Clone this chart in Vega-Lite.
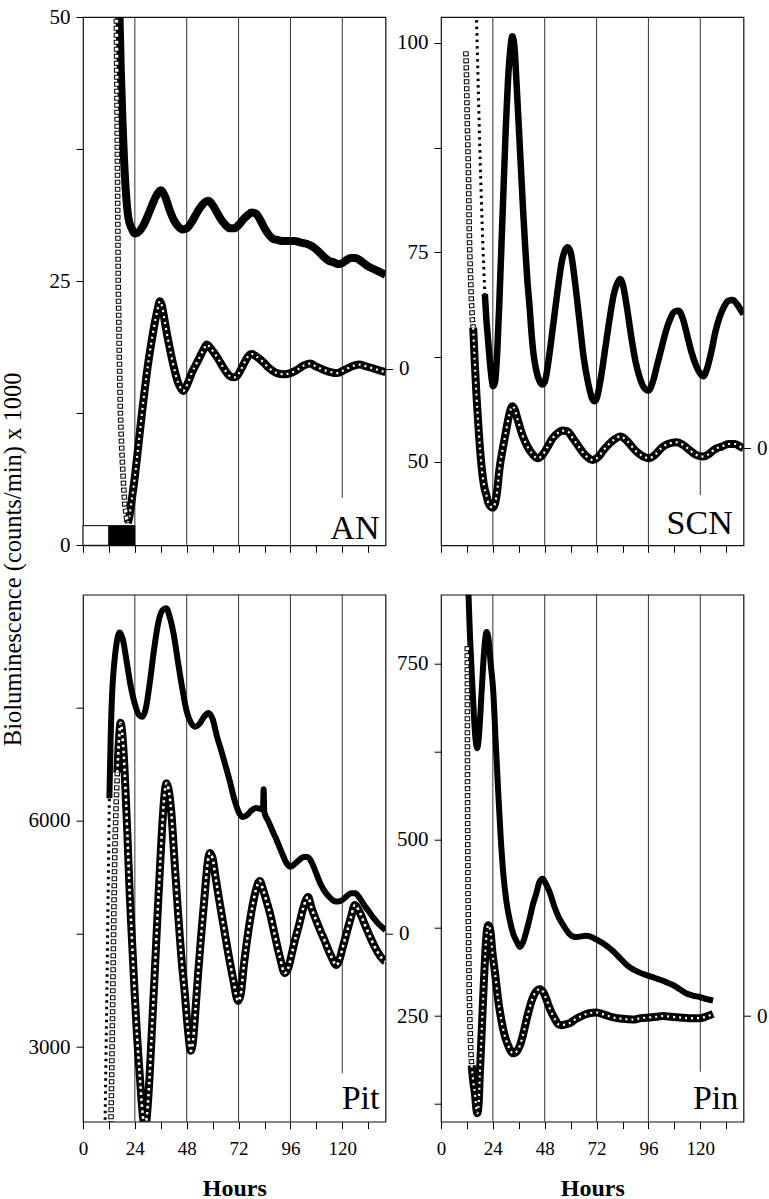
{
"$schema": "https://vega.github.io/schema/vega-lite/v6.json",
"background": "white",
"padding": {"left": 0, "top": 5, "right": 0, "bottom": 0},
"title": {"text": "Bioluminescence (counts/min) x 1000", "orient": "left", "anchor": "middle", "font": "Liberation Serif", "fontSize": 24.5, "fontWeight": "normal", "color": "black", "offset": 1, "dx": 44},
"config": {
 "view": {"stroke": "#111", "strokeWidth": 1.2},
 "axis": {"labelFont": "Liberation Serif", "labelFontSize": 21, "labelColor": "black", "tickColor": "black", "tickSize": 7, "tickWidth": 1, "domain": false, "grid": false, "labelPadding": 6, "titleFont": "Liberation Serif", "titleColor": "black", "labelOverlap": false}
},
"datasets": {
 "an_grid": [{"h":24,"v":50,"v2":0},{"h":48,"v":50,"v2":0},{"h":72,"v":50,"v2":0},{"h":96,"v":50,"v2":0},{"h":120,"v":50,"v2":4.5}],
 "an_box": [{"h":0,"h2":12,"v":0,"v2":1.86,"phase":"light"},{"h":12,"h2":24,"v":0,"v2":1.86,"phase":"dark"}],
 "an_label": [{"label":"AN","h":137.2,"v":0.6}],
 "an_zero": [{"v":16.7}],
 "an_raw": [{"h":16.8,"v":51},{"h":17.5,"v":45},{"h":18.3,"v":40},{"h":19,"v":36.5},{"h":20,"v":33},{"h":21,"v":31},{"h":22.5,"v":30},{"h":24,"v":29.5},{"h":26,"v":29.7},{"h":28,"v":30.3},{"h":30,"v":31.2},{"h":32,"v":32.2},{"h":34,"v":33.1},{"h":36,"v":33.6},{"h":38,"v":33.0},{"h":40,"v":31.8},{"h":42,"v":30.8},{"h":44,"v":30.2},{"h":46,"v":29.9},{"h":48,"v":30.0},{"h":50,"v":30.5},{"h":52,"v":31.2},{"h":54,"v":31.9},{"h":56,"v":32.4},{"h":58,"v":32.6},{"h":60,"v":32.2},{"h":62,"v":31.5},{"h":64,"v":30.8},{"h":66,"v":30.3},{"h":68,"v":30.0},{"h":70,"v":30.0},{"h":72,"v":30.3},{"h":74,"v":30.8},{"h":76,"v":31.2},{"h":78,"v":31.5},{"h":80,"v":31.4},{"h":82,"v":30.8},{"h":84,"v":30.0},{"h":86,"v":29.4},{"h":88,"v":29.0},{"h":90,"v":28.9},{"h":92,"v":28.8},{"h":94,"v":28.8},{"h":96,"v":28.8},{"h":98,"v":28.8},{"h":100,"v":28.7},{"h":102,"v":28.6},{"h":104,"v":28.5},{"h":106,"v":28.3},{"h":108,"v":28.0},{"h":110,"v":27.6},{"h":112,"v":27.2},{"h":114,"v":26.9},{"h":116,"v":26.8},{"h":118,"v":26.6},{"h":120,"v":26.7},{"h":122,"v":27.0},{"h":124,"v":27.2},{"h":126,"v":27.2},{"h":128,"v":27.0},{"h":130,"v":26.7},{"h":132,"v":26.4},{"h":134,"v":26.2},{"h":136,"v":26.0},{"h":138,"v":25.8},{"h":140,"v":25.6}],
 "an_steep": [{"h":15.4,"v":50.5},{"h":15.8,"v":40},{"h":16.3,"v":25},{"h":16.8,"v":18},{"h":17.3,"v":12.6},{"h":17.8,"v":9.8},{"h":18.3,"v":7.5},{"h":18.9,"v":5.3},{"h":19.4,"v":3.8},{"h":20.1,"v":2.6},{"h":20.8,"v":2.1}],
 "an_det": [{"h":20.8,"v":2.1},{"h":21.5,"v":2.8},{"h":22.5,"v":4.2},{"h":24,"v":6.5},{"h":25.5,"v":9.2},{"h":27,"v":12},{"h":28.5,"v":14.6},{"h":30,"v":17},{"h":31.5,"v":19},{"h":33,"v":20.8},{"h":34.5,"v":22.3},{"h":35.6,"v":23.1},{"h":36.5,"v":22.7},{"h":37.5,"v":21.6},{"h":38.5,"v":20.4},{"h":40.2,"v":18.6},{"h":42,"v":16.9},{"h":44,"v":15.4},{"h":45.5,"v":14.8},{"h":46.4,"v":14.6},{"h":47.5,"v":14.9},{"h":49,"v":15.6},{"h":50.3,"v":16.3},{"h":52,"v":17},{"h":54,"v":17.8},{"h":56,"v":18.6},{"h":57.3,"v":19},{"h":58.5,"v":18.8},{"h":60,"v":18.4},{"h":62.7,"v":17.6},{"h":65,"v":16.8},{"h":68.1,"v":16},{"h":70,"v":15.9},{"h":71.2,"v":16},{"h":73,"v":16.6},{"h":75,"v":17.4},{"h":76.5,"v":17.9},{"h":78.2,"v":18.1},{"h":80,"v":17.9},{"h":83.6,"v":17.3},{"h":86,"v":16.8},{"h":89.8,"v":16.3},{"h":93,"v":16.2},{"h":96,"v":16.3},{"h":99,"v":16.6},{"h":102,"v":17},{"h":105,"v":17.2},{"h":108,"v":16.9},{"h":111.5,"v":16.6},{"h":114.5,"v":16.4},{"h":117.6,"v":16.3},{"h":121,"v":16.6},{"h":125.4,"v":17},{"h":128,"v":17.1},{"h":131.6,"v":16.9},{"h":135,"v":16.7},{"h":138,"v":16.5},{"h":140,"v":16.4}],

 "scn_grid": [{"h":24,"v":103.1,"v2":40},{"h":48,"v":103.1,"v2":40},{"h":72,"v":103.1,"v2":40},{"h":96,"v":103.1,"v2":40},{"h":120,"v":103.1,"v2":46}],
 "scn_label": [{"label":"SCN","h":135,"v":41.3}],
 "scn_zero": [{"v":51.6}],
 "scn_dots": [{"h":16.4,"v":103.5},{"h":17.2,"v":95},{"h":17.9,"v":88},{"h":18.7,"v":81},{"h":19.5,"v":75},{"h":20.3,"v":70}],
 "scn_raw": [{"h":20.3,"v":70},{"h":21,"v":67},{"h":21.8,"v":64.5},{"h":22.6,"v":62},{"h":23.4,"v":60},{"h":24.1,"v":59},{"h":25,"v":59.5},{"h":26,"v":63},{"h":27,"v":69},{"h":28,"v":76},{"h":29,"v":83},{"h":30,"v":90},{"h":31,"v":95.5},{"h":32,"v":99},{"h":33,"v":100.8},{"h":34,"v":99.5},{"h":35,"v":95},{"h":36,"v":90},{"h":37,"v":85},{"h":38,"v":80},{"h":39,"v":75.5},{"h":40,"v":71.5},{"h":41,"v":68.5},{"h":42,"v":65},{"h":43,"v":62.5},{"h":44,"v":61},{"h":45,"v":60},{"h":46.8,"v":59.2},{"h":48,"v":59.5},{"h":50,"v":62.5},{"h":52,"v":66.5},{"h":54,"v":70.5},{"h":56,"v":74},{"h":58,"v":75.5},{"h":58.6,"v":75.6},{"h":60,"v":75},{"h":62,"v":71.5},{"h":64,"v":67},{"h":66,"v":62.5},{"h":68,"v":59.5},{"h":70,"v":57.5},{"h":71,"v":57.2},{"h":72,"v":57.5},{"h":74,"v":60},{"h":76,"v":63.5},{"h":78,"v":67},{"h":80,"v":70},{"h":82,"v":71.5},{"h":83,"v":71.8},{"h":84,"v":71.3},{"h":86,"v":68.5},{"h":88,"v":65},{"h":90,"v":62},{"h":92,"v":60},{"h":94,"v":58.8},{"h":96,"v":58.5},{"h":98,"v":59.5},{"h":100,"v":61.5},{"h":102,"v":63.5},{"h":104,"v":65.5},{"h":106,"v":67},{"h":108,"v":67.9},{"h":110,"v":68},{"h":112,"v":67},{"h":114,"v":65},{"h":116,"v":63},{"h":118,"v":61.5},{"h":120,"v":60.5},{"h":121.5,"v":60.2},{"h":123,"v":61},{"h":125,"v":63},{"h":127,"v":65.5},{"h":129,"v":67.3},{"h":131,"v":68.5},{"h":133,"v":69.2},{"h":135,"v":69.3},{"h":137,"v":68.8},{"h":139,"v":68},{"h":140,"v":67.6}],
 "scn_steep": [{"h":11.5,"v":99},{"h":11.8,"v":96},{"h":12.0,"v":93},{"h":12.2,"v":90},{"h":12.4,"v":88},{"h":12.6,"v":86},{"h":12.8,"v":83},{"h":13.0,"v":79},{"h":13.3,"v":75},{"h":13.7,"v":72},{"h":14.1,"v":69},{"h":14.5,"v":67},{"h":14.9,"v":66}],
 "scn_det": [{"h":14.9,"v":66},{"h":15.6,"v":62},{"h":16.4,"v":58},{"h":17.5,"v":53.5},{"h":18.7,"v":49.6},{"h":20,"v":47},{"h":21,"v":46},{"h":22,"v":45},{"h":24,"v":44.5},{"h":25,"v":45},{"h":26,"v":46.5},{"h":27,"v":49},{"h":28.7,"v":51.7},{"h":30,"v":53.5},{"h":31.5,"v":55.5},{"h":33,"v":56.6},{"h":34,"v":56.3},{"h":35.5,"v":55},{"h":37.9,"v":53},{"h":40,"v":51.8},{"h":42,"v":51},{"h":44.8,"v":50.4},{"h":47,"v":50.8},{"h":49,"v":51.6},{"h":51.7,"v":52.8},{"h":54,"v":53.4},{"h":56,"v":53.7},{"h":58.6,"v":53.6},{"h":61,"v":52.8},{"h":64,"v":51.7},{"h":67,"v":50.7},{"h":70.1,"v":50.2},{"h":73,"v":50.6},{"h":75,"v":51.3},{"h":77.8,"v":52.1},{"h":80,"v":52.6},{"h":83.1,"v":53},{"h":86,"v":52.5},{"h":90,"v":51.3},{"h":93,"v":50.7},{"h":96.2,"v":50.4},{"h":99,"v":50.8},{"h":102.3,"v":51.7},{"h":105,"v":52.1},{"h":109.2,"v":52.3},{"h":112,"v":52},{"h":115.4,"v":51.3},{"h":118,"v":50.8},{"h":121.5,"v":50.6},{"h":124,"v":50.9},{"h":126.9,"v":51.5},{"h":130,"v":51.8},{"h":133,"v":52.1},{"h":136,"v":52.1},{"h":139.1,"v":51.7},{"h":140,"v":51.6}],

 "pit_grid": [{"h":24,"v":9000,"v2":2010},{"h":48,"v":9000,"v2":2010},{"h":72,"v":9000,"v2":2010},{"h":96,"v":9000,"v2":2010},{"h":120,"v":9000,"v2":2655}],
 "pit_label": [{"label":"Pit","h":137.2,"v":2180}],
 "pit_zero": [{"v":4500}],
 "pit_dots": [{"h":10.2,"v":1950},{"h":10.6,"v":2800},{"h":11.0,"v":3600},{"h":11.4,"v":4500},{"h":11.8,"v":5400},{"h":12.2,"v":6300}],
 "pit_raw": [{"h":12.2,"v":6300},{"h":12.8,"v":7100},{"h":13.5,"v":7700},{"h":14.5,"v":8100},{"h":15.5,"v":8350},{"h":17,"v":8500},{"h":18.5,"v":8400},{"h":20,"v":8150},{"h":22,"v":7800},{"h":24,"v":7550},{"h":26,"v":7400},{"h":27.5,"v":7380},{"h":29,"v":7480},{"h":31,"v":7850},{"h":33,"v":8300},{"h":35,"v":8650},{"h":37,"v":8800},{"h":38.6,"v":8820},{"h":40,"v":8720},{"h":42,"v":8470},{"h":44,"v":8100},{"h":46,"v":7750},{"h":48,"v":7450},{"h":50,"v":7300},{"h":52,"v":7250},{"h":54,"v":7290},{"h":56,"v":7380},{"h":58,"v":7430},{"h":60,"v":7350},{"h":62,"v":7120},{"h":64,"v":6930},{"h":66,"v":6730},{"h":68,"v":6520},{"h":70,"v":6290},{"h":72,"v":6120},{"h":74,"v":6050},{"h":76,"v":6080},{"h":78,"v":6140},{"h":80,"v":6170},{"h":82,"v":6160},{"h":83.3,"v":6150},{"h":83.6,"v":6420},{"h":83.9,"v":6120},{"h":85.7,"v":6000},{"h":88,"v":5850},{"h":90,"v":5720},{"h":92,"v":5580},{"h":94,"v":5450},{"h":96,"v":5390},{"h":98,"v":5430},{"h":100,"v":5480},{"h":102,"v":5520},{"h":104,"v":5520},{"h":106,"v":5440},{"h":108,"v":5300},{"h":110,"v":5160},{"h":112,"v":5060},{"h":114,"v":4990},{"h":116,"v":4940},{"h":118,"v":4930},{"h":120,"v":4950},{"h":122,"v":5000},{"h":124,"v":5040},{"h":126,"v":5040},{"h":128,"v":4980},{"h":130,"v":4890},{"h":132,"v":4810},{"h":134,"v":4730},{"h":136,"v":4660},{"h":138,"v":4600},{"h":140,"v":4550}],
 "pit_steep": [{"h":12.9,"v":1950},{"h":13.1,"v":2300},{"h":13.4,"v":2900},{"h":13.7,"v":3500},{"h":13.9,"v":3980},{"h":14.3,"v":4800},{"h":14.7,"v":5575},{"h":15.3,"v":6200},{"h":15.9,"v":6640}],
 "pit_det": [{"h":15.9,"v":6640},{"h":16.6,"v":7050},{"h":17.4,"v":7300},{"h":18.2,"v":7150},{"h":19.3,"v":6640},{"h":20.5,"v":5850},{"h":21.6,"v":5044},{"h":22.8,"v":4350},{"h":23.9,"v":3717},{"h":25,"v":3150},{"h":26.2,"v":2655},{"h":27.2,"v":2250},{"h":28.2,"v":1980},{"h":28.8,"v":1940},{"h":29.6,"v":2100},{"h":30.9,"v":2655},{"h":32,"v":3300},{"h":33.2,"v":3982},{"h":34.4,"v":4700},{"h":35.5,"v":5310},{"h":36.6,"v":5900},{"h":37.8,"v":6372},{"h":38.6,"v":6500},{"h":39.6,"v":6420},{"h":40.9,"v":6106},{"h":42.4,"v":5450},{"h":44,"v":4779},{"h":45.5,"v":4200},{"h":47.1,"v":3717},{"h":48.5,"v":3250},{"h":49.9,"v":2950},{"h":51,"v":3100},{"h":52.2,"v":3550},{"h":53.3,"v":3982},{"h":54.8,"v":4520},{"h":56.4,"v":5044},{"h":57.5,"v":5400},{"h":58.7,"v":5575},{"h":60,"v":5500},{"h":61.2,"v":5280},{"h":62.5,"v":5044},{"h":64.8,"v":4650},{"h":67.2,"v":4248},{"h":69.5,"v":3900},{"h":71.8,"v":3611},{"h":73,"v":3700},{"h":74.5,"v":4100},{"h":76.4,"v":4513},{"h":78.5,"v":4880},{"h":80,"v":5080},{"h":81.8,"v":5204},{"h":83.2,"v":5100},{"h":84.8,"v":4950},{"h":86.5,"v":4779},{"h":88.8,"v":4480},{"h":91.1,"v":4195},{"h":93.4,"v":3982},{"h":95,"v":4050},{"h":96.5,"v":4220},{"h":98,"v":4407},{"h":100,"v":4620},{"h":102,"v":4850},{"h":104.2,"v":4991},{"h":105.7,"v":4850},{"h":107.3,"v":4726},{"h":109.6,"v":4560},{"h":111.9,"v":4407},{"h":114.6,"v":4220},{"h":117.3,"v":4088},{"h":118.6,"v":4150},{"h":120,"v":4300},{"h":122,"v":4513},{"h":124,"v":4720},{"h":125.8,"v":4885},{"h":127.5,"v":4820},{"h":130.5,"v":4620},{"h":133.5,"v":4420},{"h":136.6,"v":4248},{"h":138,"v":4190},{"h":140,"v":4130}],

 "pin_grid": [{"h":24,"v":848,"v2":100},{"h":48,"v":848,"v2":100},{"h":72,"v":848,"v2":100},{"h":96,"v":848,"v2":100},{"h":120,"v":848,"v2":171}],
 "pin_label": [{"label":"Pin","h":137.6,"v":118}],
 "pin_zero": [{"v":250}],
 "pin_raw": [{"h":12.6,"v":860},{"h":13.4,"v":790},{"h":14.2,"v":738},{"h":15,"v":690},{"h":15.7,"v":653},{"h":16.3,"v":635},{"h":16.8,"v":630},{"h":17.5,"v":645},{"h":18.8,"v":710},{"h":20,"v":770},{"h":21.1,"v":795},{"h":22,"v":785},{"h":23,"v":750},{"h":24.2,"v":710},{"h":25.3,"v":640},{"h":26.5,"v":567},{"h":27.6,"v":505},{"h":28.8,"v":453},{"h":30.3,"v":412},{"h":31.9,"v":385},{"h":33.5,"v":366},{"h":35,"v":356},{"h":36.5,"v":348},{"h":38,"v":355},{"h":39.5,"v":370},{"h":41,"v":388},{"h":42.5,"v":408},{"h":44.2,"v":425},{"h":45.5,"v":440},{"h":47,"v":445},{"h":48.5,"v":438},{"h":50.4,"v":425},{"h":52.5,"v":405},{"h":54.5,"v":390},{"h":56.6,"v":379},{"h":59,"v":368},{"h":61,"v":363},{"h":62.7,"v":362},{"h":65,"v":363},{"h":67,"v":364},{"h":68.9,"v":363},{"h":71,"v":360},{"h":73.5,"v":356},{"h":76.5,"v":350},{"h":79.7,"v":342},{"h":83.5,"v":330},{"h":87.4,"v":319},{"h":91,"v":313},{"h":95.1,"v":308},{"h":99,"v":304},{"h":102.8,"v":300},{"h":105,"v":297},{"h":107.4,"v":294},{"h":110.5,"v":288},{"h":113.6,"v":282},{"h":116.5,"v":279},{"h":119.7,"v":277},{"h":123,"v":274},{"h":125.9,"v":272}],
 "pin_steep": [{"h":12.15,"v":775},{"h":12.2,"v":720},{"h":12.22,"v":660},{"h":12.25,"v":600},{"h":12.3,"v":540},{"h":12.4,"v":480},{"h":12.5,"v":425},{"h":12.7,"v":370},{"h":12.9,"v":320},{"h":13.1,"v":280},{"h":13.4,"v":240},{"h":13.8,"v":200},{"h":14.2,"v":180}],
 "pin_det": [{"h":14.2,"v":180},{"h":15,"v":155},{"h":15.7,"v":140},{"h":16.3,"v":120},{"h":16.8,"v":112},{"h":17.4,"v":125},{"h":18,"v":169},{"h":18.8,"v":225},{"h":19.6,"v":282},{"h":20.5,"v":340},{"h":21.2,"v":370},{"h":21.9,"v":379},{"h":22.8,"v":372},{"h":23.8,"v":340},{"h":25,"v":311},{"h":26.5,"v":272},{"h":28,"v":243},{"h":29.5,"v":222},{"h":31.1,"v":208},{"h":32.3,"v":200},{"h":33.4,"v":197},{"h":34.8,"v":199},{"h":36.5,"v":208},{"h":38.1,"v":225},{"h":40,"v":250},{"h":41.9,"v":271},{"h":43.8,"v":284},{"h":45.8,"v":288},{"h":47.5,"v":283},{"h":49,"v":272},{"h":50.4,"v":260},{"h":52.5,"v":247},{"h":54.5,"v":238},{"h":55.8,"v":237},{"h":57.5,"v":238},{"h":59.6,"v":240},{"h":62.5,"v":246},{"h":65.8,"v":251},{"h":68.5,"v":254},{"h":72,"v":255},{"h":75.5,"v":252},{"h":79.7,"v":248},{"h":84,"v":246},{"h":88.9,"v":245},{"h":92.5,"v":247},{"h":96.6,"v":248},{"h":100,"v":249},{"h":102.8,"v":250},{"h":106.5,"v":249},{"h":110.5,"v":248},{"h":115,"v":247},{"h":119.7,"v":247},{"h":122.5,"v":249},{"h":125.9,"v":253}]
},
"bounds": "flush",
"columns": 2,
"spacing": {"row": 48.7, "column": 55},
"concat": [
  {"width": 302.5, "height": 528.3,
   "resolve": {"scale": {"y": "independent"}},
   "layer": [
    {"encoding": {
      "x": {"field": "h", "type": "quantitative", "scale": {"domain": [0, 140], "nice": false, "zero": false}, "axis": {"values": [0,12,24,36,48,60,72,84,96,108,120,132], "labels": false, "title": null}},
      "y": {"field": "v", "type": "quantitative", "scale": {"domain": [0, 50], "nice": false, "zero": false}, "axis": {"values": [0,12.5,25,37.5,50], "labelExpr": "datum.value % 25 === 0 ? datum.label : ''", "title": null}}},
     "layer": [
      {"data": {"name": "an_grid"}, "mark": {"type": "rule", "color": "#333", "strokeWidth": 1}, "encoding": {"y2": {"field": "v2"}}},
      {"data": {"name": "an_box"}, "mark": {"type": "rect", "stroke": "black", "strokeWidth": 1}, "encoding": {"x2": {"field": "h2"}, "y2": {"field": "v2"}, "color": {"field": "phase", "type": "nominal", "scale": {"domain": ["light", "dark"], "range": ["white", "black"]}, "legend": null}}},
      {"data": {"name": "an_raw"}, "mark": {"type": "line", "color": "black", "strokeWidth": 8, "interpolate": "monotone", "clip": true}},
      {"data": {"name": "an_det"}, "mark": {"type": "line", "color": "black", "strokeWidth": 8, "interpolate": "monotone", "clip": true}},
      {"data": {"name": "an_det"}, "mark": {"type": "line", "color": "white", "strokeWidth": 2.2, "strokeDash": [2, 4], "interpolate": "monotone", "clip": true}},
      {"data": {"name": "an_steep"}, "mark": {"type": "line", "color": "black", "strokeWidth": 5.5, "strokeDash": [5, 2], "clip": true}},
      {"data": {"name": "an_steep"}, "mark": {"type": "line", "color": "white", "strokeWidth": 3.5, "strokeDash": [3, 4], "strokeDashOffset": 6, "clip": true}},
      {"data": {"name": "an_label"}, "mark": {"type": "text", "font": "Liberation Serif", "fontSize": 34, "align": "right", "baseline": "alphabetic", "color": "black"}, "encoding": {"text": {"field": "label"}}}
     ]},
    {"data": {"name": "an_zero"}, "mark": {"type": "rule", "opacity": 0},
     "encoding": {"y": {"field": "v", "type": "quantitative", "scale": {"domain": [0, 50], "nice": false, "zero": false}, "axis": {"orient": "right", "values": [16.7], "labelExpr": "'0'", "title": null}}}}
   ]},
  {"width": 302.5, "height": 528.3,
   "resolve": {"scale": {"y": "independent"}},
   "layer": [
    {"encoding": {
      "x": {"field": "h", "type": "quantitative", "scale": {"domain": [0, 140], "nice": false, "zero": false}, "axis": {"values": [0,12,24,36,48,60,72,84,96,108,120,132], "labels": false, "title": null}},
      "y": {"field": "v", "type": "quantitative", "scale": {"domain": [40, 103.1], "nice": false, "zero": false}, "axis": {"values": [50,62.5,75,87.5,100], "labelExpr": "datum.value % 25 === 0 ? datum.label : ''", "title": null}}},
     "layer": [
      {"data": {"name": "scn_grid"}, "mark": {"type": "rule", "color": "#333", "strokeWidth": 1}, "encoding": {"y2": {"field": "v2"}}},
      {"data": {"name": "scn_dots"}, "mark": {"type": "line", "color": "black", "strokeWidth": 3, "strokeDash": [2.5, 4], "clip": true}},
      {"data": {"name": "scn_raw"}, "mark": {"type": "line", "color": "black", "strokeWidth": 6.5, "interpolate": "monotone", "clip": true}},
      {"data": {"name": "scn_det"}, "mark": {"type": "line", "color": "black", "strokeWidth": 8, "interpolate": "monotone", "clip": true}},
      {"data": {"name": "scn_det"}, "mark": {"type": "line", "color": "white", "strokeWidth": 2.2, "strokeDash": [2, 4], "interpolate": "monotone", "clip": true}},
      {"data": {"name": "scn_steep"}, "mark": {"type": "line", "color": "black", "strokeWidth": 5.5, "strokeDash": [5, 2], "clip": true}},
      {"data": {"name": "scn_steep"}, "mark": {"type": "line", "color": "white", "strokeWidth": 3.5, "strokeDash": [3, 4], "strokeDashOffset": 6, "clip": true}},
      {"data": {"name": "scn_label"}, "mark": {"type": "text", "font": "Liberation Serif", "fontSize": 34, "align": "right", "baseline": "alphabetic", "color": "black"}, "encoding": {"text": {"field": "label"}}}
     ]},
    {"data": {"name": "scn_zero"}, "mark": {"type": "rule", "opacity": 0},
     "encoding": {"y": {"field": "v", "type": "quantitative", "scale": {"domain": [40, 103.1], "nice": false, "zero": false}, "axis": {"orient": "right", "values": [51.6], "labelExpr": "'0'", "title": null}}}}
   ]},
  {"width": 302.5, "height": 527,
   "resolve": {"scale": {"y": "independent"}},
   "layer": [
    {"encoding": {
      "x": {"field": "h", "type": "quantitative", "scale": {"domain": [0, 140], "nice": false, "zero": false}, "axis": {"values": [0,12,24,36,48,60,72,84,96,108,120,132], "labelExpr": "datum.value % 24 === 0 ? datum.label : ''", "labelFlush": false, "labelFontSize": 19, "labelPadding": 11, "title": "Hours", "titleFontSize": 24, "titleFontWeight": "bold", "titlePadding": 18}},
      "y": {"field": "v", "type": "quantitative", "scale": {"domain": [2010, 9000], "nice": false, "zero": false}, "axis": {"values": [3000,4500,6000,7500], "format": "d", "labelExpr": "datum.value % 3000 === 0 ? datum.label : ''", "title": null}}},
     "layer": [
      {"data": {"name": "pit_grid"}, "mark": {"type": "rule", "color": "#333", "strokeWidth": 1}, "encoding": {"y2": {"field": "v2"}}},
      {"data": {"name": "pit_dots"}, "mark": {"type": "line", "color": "black", "strokeWidth": 3, "strokeDash": [2.5, 4], "clip": true}},
      {"data": {"name": "pit_raw"}, "mark": {"type": "line", "color": "black", "strokeWidth": 6, "interpolate": "monotone", "clip": true}},
      {"data": {"name": "pit_det"}, "mark": {"type": "line", "color": "black", "strokeWidth": 8, "interpolate": "monotone", "clip": true}},
      {"data": {"name": "pit_det"}, "mark": {"type": "line", "color": "white", "strokeWidth": 2.6, "strokeDash": [2.5, 3.5], "interpolate": "monotone", "clip": true}},
      {"data": {"name": "pit_steep"}, "mark": {"type": "line", "color": "black", "strokeWidth": 5.5, "strokeDash": [5, 2], "clip": true}},
      {"data": {"name": "pit_steep"}, "mark": {"type": "line", "color": "white", "strokeWidth": 3.5, "strokeDash": [3, 4], "strokeDashOffset": 6, "clip": true}},
      {"data": {"name": "pit_label"}, "mark": {"type": "text", "font": "Liberation Serif", "fontSize": 34, "align": "right", "baseline": "alphabetic", "color": "black"}, "encoding": {"text": {"field": "label"}}}
     ]},
    {"data": {"name": "pit_zero"}, "mark": {"type": "rule", "opacity": 0},
     "encoding": {"y": {"field": "v", "type": "quantitative", "scale": {"domain": [2010, 9000], "nice": false, "zero": false}, "axis": {"orient": "right", "values": [4500], "labelExpr": "'0'", "title": null}}}}
   ]},
  {"width": 302.5, "height": 527,
   "resolve": {"scale": {"y": "independent"}},
   "layer": [
    {"encoding": {
      "x": {"field": "h", "type": "quantitative", "scale": {"domain": [0, 140], "nice": false, "zero": false}, "axis": {"values": [0,12,24,36,48,60,72,84,96,108,120,132], "labelExpr": "datum.value % 24 === 0 ? datum.label : ''", "labelFlush": false, "labelFontSize": 19, "labelPadding": 11, "title": "Hours", "titleFontSize": 24, "titleFontWeight": "bold", "titlePadding": 18}},
      "y": {"field": "v", "type": "quantitative", "scale": {"domain": [100, 848], "nice": false, "zero": false}, "axis": {"values": [125,250,375,500,625,750], "labelExpr": "datum.value % 250 === 0 ? datum.label : ''", "title": null}}},
     "layer": [
      {"data": {"name": "pin_grid"}, "mark": {"type": "rule", "color": "#333", "strokeWidth": 1}, "encoding": {"y2": {"field": "v2"}}},
      {"data": {"name": "pin_raw"}, "mark": {"type": "line", "color": "black", "strokeWidth": 6, "interpolate": "monotone", "clip": true}},
      {"data": {"name": "pin_det"}, "mark": {"type": "line", "color": "black", "strokeWidth": 8, "interpolate": "monotone", "clip": true}},
      {"data": {"name": "pin_det"}, "mark": {"type": "line", "color": "white", "strokeWidth": 2.2, "strokeDash": [2, 4], "interpolate": "monotone", "clip": true}},
      {"data": {"name": "pin_steep"}, "mark": {"type": "line", "color": "black", "strokeWidth": 5.5, "strokeDash": [5, 2], "clip": true}},
      {"data": {"name": "pin_steep"}, "mark": {"type": "line", "color": "white", "strokeWidth": 3.5, "strokeDash": [3, 4], "strokeDashOffset": 6, "clip": true}},
      {"data": {"name": "pin_label"}, "mark": {"type": "text", "font": "Liberation Serif", "fontSize": 34, "align": "right", "baseline": "alphabetic", "color": "black"}, "encoding": {"text": {"field": "label"}}}
     ]},
    {"data": {"name": "pin_zero"}, "mark": {"type": "rule", "opacity": 0},
     "encoding": {"y": {"field": "v", "type": "quantitative", "scale": {"domain": [100, 848], "nice": false, "zero": false}, "axis": {"orient": "right", "values": [250], "labelExpr": "'0'", "title": null}}}}
   ]}
]
}
